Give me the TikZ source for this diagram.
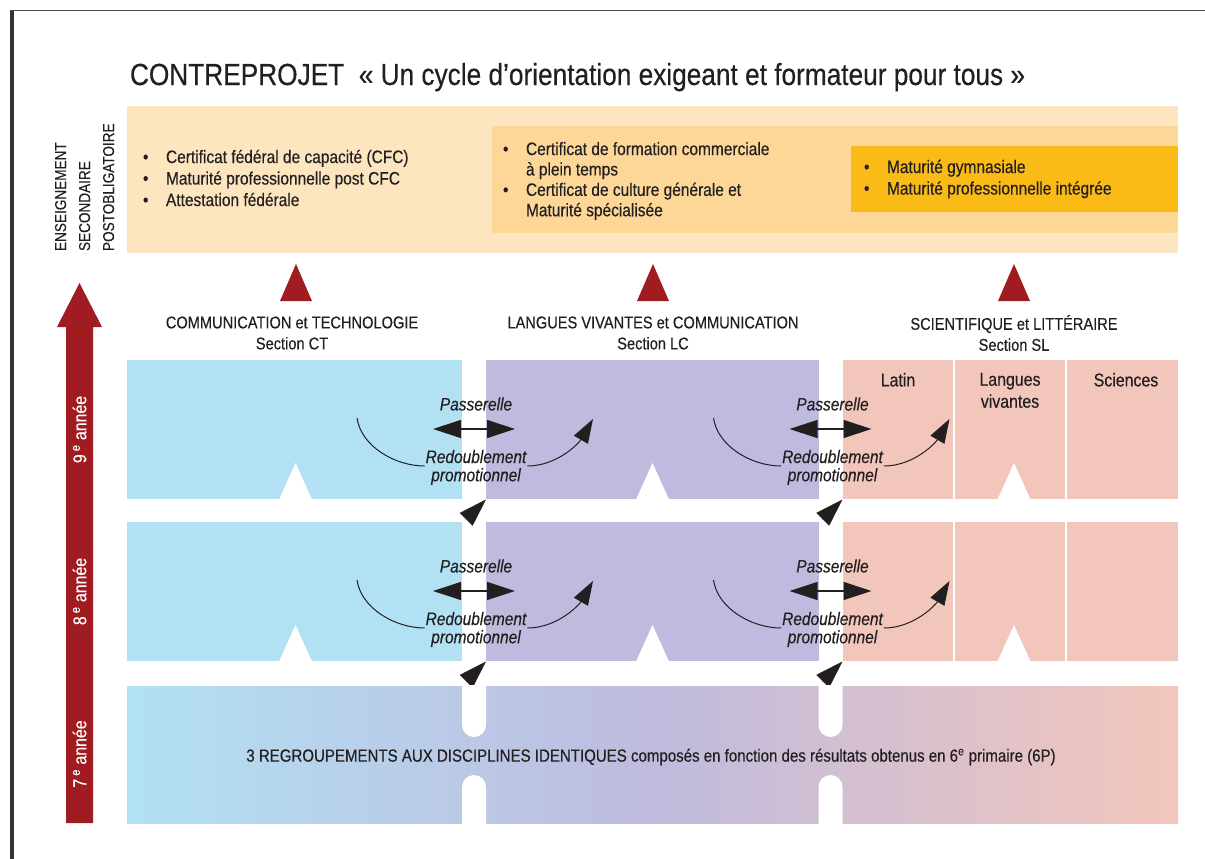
\documentclass[tikz,border=0pt]{standalone}
\usepackage{fontspec}
\setmainfont{Liberation Sans}[FakeStretch=0.86,FakeBold=0.35]
\usetikzlibrary{positioning,arrows.meta}

\definecolor{ctblue}{HTML}{B2E1F4}
\definecolor{lcpurple}{HTML}{BFBBDE}
\definecolor{slpink}{HTML}{F3C6BC}
\definecolor{beigelight}{HTML}{FDE6BF}
\definecolor{beigemid}{HTML}{FCD797}
\definecolor{goldbox}{HTML}{FBBB16}
\definecolor{bordeaux}{HTML}{A01C20}
\definecolor{ink}{HTML}{231F20}

\newcommand{\puce}{\makebox[23pt][l]{\textbullet}}

\begin{document}
\begin{tikzpicture}[
    x=1pt, y=-1pt,
    every node/.style={
        inner sep=0pt,
        outer sep=0pt,
        text=ink,
    },
    band/.style n args={3}{
        fill=#1,
        anchor=north west,
        minimum width=#2,
        minimum height=#3,
    },
    listtext/.style={
        font=\fontsize{18}{21.5}\selectfont,
        align=left,
        anchor=west,
    },
    header/.style={
        font=\fontsize{17}{21}\selectfont,
        align=center,
    },
    bridge/.style={
        font=\fontsize{18}{20}\selectfont\itshape,
    },
    yearlabel/.style={
        font=\fontsize{18.5}{20}\selectfont,
        text=white,
        rotate=90,
    },
    twoway/.style={
        draw=ink, line width=1.2pt,
        {Triangle[length=28pt,width=18pt]}-{Triangle[length=28pt,width=18pt]},
    },
    bendarrow/.style={
        draw=ink, line width=1pt,
        -{Triangle[length=24pt,width=16pt]},
    },
    diag/.style={
        draw=ink, line width=0.5pt,
        -{Triangle[length=28pt,width=18pt]},
    },
]
    \useasboundingbox (0,0) rectangle (1205,859);
    % frame
    \draw[gray!60!black, line width=1pt] (10,11) -- (1205,11);
    \fill[black!80] (10,11) rectangle (13.5,859);

    % title
    \node[font=\fontsize{30.5}{34}\selectfont, anchor=base west] (titre) at (130,85)
        {CONTREPROJET\ \ «~Un cycle d’orientation exigeant et formateur pour tous~»};

    % postobligatoire
    \node[band={beigelight}{1051pt}{147pt}] (post) at (127,106) {};
    \node[band={beigemid}{686pt}{107pt}] (postmid) at (492,126) {};
    \node[band={goldbox}{327pt}{66pt}] (postgold) at (851,146) {};
    \node[font=\fontsize{15.8}{24}\selectfont, align=left, rotate=90, anchor=north west] (esp) at (55,251)
        {ENSEIGNEMENT\\SECONDAIRE\\POSTOBLIGATOIRE};
    \node[listtext] (cfc) at (143,178)
        {\puce Certificat fédéral de capacité (CFC)\\\puce Maturité professionnelle post CFC\\\puce Attestation fédérale};
    \node[listtext, font=\fontsize{18}{20.4}\selectfont] (ccg) at (503,181)
        {\puce Certificat de formation commerciale\\\hspace*{23pt}à plein temps\\\puce Certificat de culture générale et\\\hspace*{23pt}Maturité spécialisée};
    \node[listtext] (mat) at (864,179)
        {\puce Maturité gymnasiale\\\puce Maturité professionnelle intégrée};

    % red triangles
    \foreach \cx in {296,653,1014}
        \fill[bordeaux] (\cx-16,301) -- (\cx,264) -- (\cx+16,301) -- cycle;

    % section headers
    \node[header] (hct) at (292,333) {COMMUNICATION et TECHNOLOGIE\\Section CT};
    \node[header] (hlc) at (653,333) {LANGUES VIVANTES et COMMUNICATION\\Section LC};
    \node[header] (hsl) at (1014,333) {SCIENTIFIQUE et LITTÉRAIRE\\Section SL};

    % big year arrow
    \fill[bordeaux] (66,823) -- (66,327) -- (57,327) -- (79.5,283) -- (102,327) -- (93,327) -- (93,823) -- cycle;

    % 9e and 8e
    \foreach \ry/\yr in {360/9,522/8}{
        \node[band={ctblue}{335pt}{139pt}] (ct\yr) at (127,\ry) {};
        \node[band={lcpurple}{333pt}{139pt}] (lc\yr) at (486,\ry) {};
        \node[band={slpink}{335pt}{139pt}] (sl\yr) at (843,\ry) {};
        \foreach \dx in {954,1066}
            \draw[white, line width=2pt] (\dx,\ry) -- (\dx,\ry+139);
        \foreach \cx in {295.5,652.5,1014}
            \fill[white] (\cx-16.5,\ry+139.5) -- (\cx,\ry+103) -- (\cx+16.5,\ry+139.5) -- cycle;
        \node[yearlabel] (an\yr) at (79.5,\ry+69.5) {\yr\,\textsuperscript{e}\ année};
        \foreach \gx/\gi in {474/a,830.5/b}{
            \node[bridge] (pas\yr\gi) at (\gx+2,\ry+44) {Passerelle};
            \coordinate (pw\yr\gi) at (\gx-41,\ry+69);
            \coordinate (pe\yr\gi) at (\gx+41,\ry+69);
            \draw[twoway] (pw\yr\gi) -- (pe\yr\gi);
            \node[bridge, anchor=base] (red\yr\gi) at (\gx+2,\ry+103) {Redoublement};
            \node[bridge, below=5pt of red\yr\gi] (pro\yr\gi) {promotionnel};
            \coordinate (rs\yr\gi) at (\gx-117,\ry+58);
            \coordinate (re\yr\gi) at (\gx+119,\ry+59);
            \draw[ink, line width=1pt] (rs\yr\gi) .. controls +(4,28) and +(-30,0) .. ([shift={(-1,3)}]red\yr\gi.base west);
            \draw[bendarrow] ([shift={(1,3)}]red\yr\gi.base east) .. controls +(30,0) and +(-14,24) .. (re\yr\gi);
            \coordinate (dt\yr\gi) at (\gx+12,\ry+139.5);
            \coordinate (db\yr\gi) at (\gx-8,\ry+159.5);
            \draw[diag] (db\yr\gi) -- (dt\yr\gi);
        }
    }

    % 7e
    \node[band={ctblue}{1051pt}{137pt}, left color=ctblue, right color=slpink, middle color=lcpurple] (base7) at (127,686) {};
    \foreach \sx in {474,830.5}{
        \fill[white] (\sx-12,685) rectangle (\sx+12,725) (\sx,725) circle (12pt);
        \fill[white] (\sx-12,787) rectangle (\sx+12,824) (\sx,787) circle (12pt);
    }
    \node[yearlabel] (an7) at (79.5,754) {7\,\textsuperscript{e}\ année};
    \node[font=\fontsize{17.5}{20}\selectfont] (regroup) at (651,757)
        {3 REGROUPEMENTS AUX DISCIPLINES IDENTIQUES composés en fonction des résultats obtenus en 6\textsuperscript{e} primaire (6P)};

    % SL subjects
    \node[header, font=\fontsize{18.5}{22}\selectfont, anchor=north] (latin) at (898,373) {Latin};
    \node[header, font=\fontsize{18.5}{22}\selectfont, anchor=north] (langues) at (1010,373) {Langues\\vivantes};
    \node[header, font=\fontsize{18.5}{22}\selectfont, anchor=north] (sciences) at (1126,373) {Sciences};
\end{tikzpicture}
\end{document}
